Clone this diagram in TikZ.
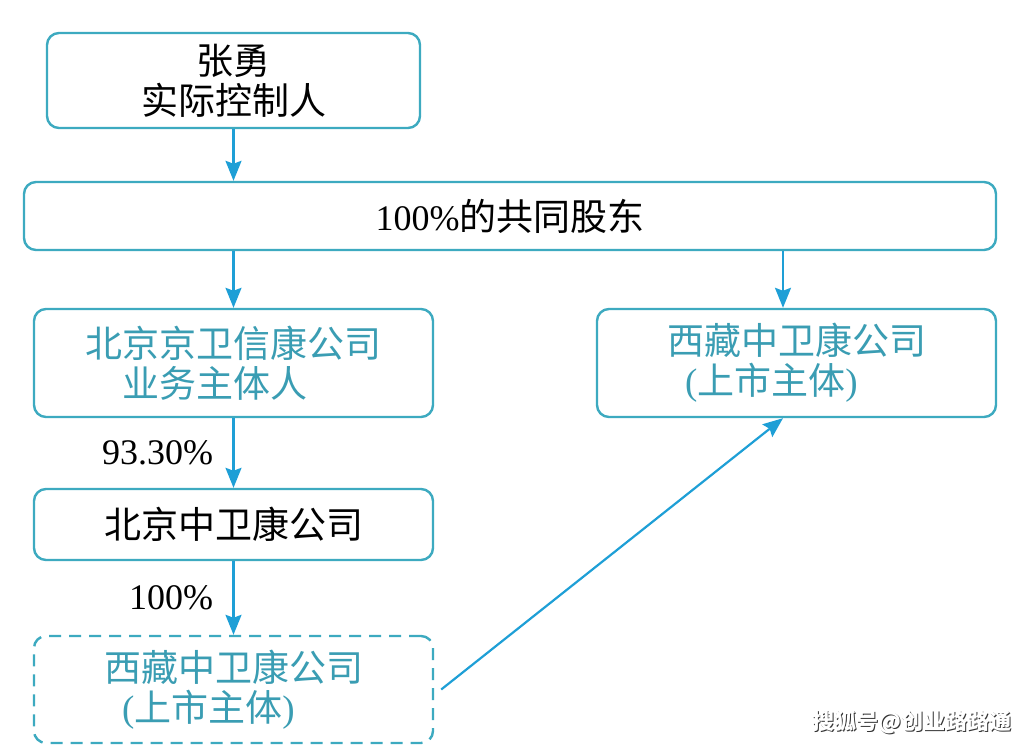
\documentclass[tikz,border=0pt]{standalone}
\usepackage{fontspec}
\setmainfont{Liberation Serif}
\newfontfamily\cjk{Noto Sans CJK SC}
\usetikzlibrary{arrows.meta}
\definecolor{boxc}{HTML}{3DAAC0}
\definecolor{tealtxt}{HTML}{3A9DB3}
\definecolor{arrc}{HTML}{1E9FD6}
\tikzset{
  box/.style={draw=boxc, line width=2.4pt, rounded corners=12pt, fill=white, align=center, inner sep=0pt, font=\fontsize{37}{40}\selectfont},
  arr/.style={draw=arrc, line width=2.2pt, -{Stealth[width=16pt,length=20pt,inset=3pt]}},
  lbl/.style={font=\fontsize{36}{40}\selectfont, text=black, left=16pt, midway},
  wm/.style={font=\fontsize{22}{24}\selectfont\cjk\bfseries}
}
\begin{document}
\begin{tikzpicture}[x=1pt,y=-1pt]
\useasboundingbox (0,0) rectangle (1026,747);
\node[box, minimum width=373pt, minimum height=95pt] (ctrl) at (233.5,80.5) {{\cjk 张勇}\\{\cjk 实际控制人}};
\node[box, minimum width=972pt, minimum height=68pt] (share) at (510,216) {\fontsize{36}{40}\selectfont 100\%{\cjk\fontsize{37}{40}\selectfont 的共同股东}};
\node[box, minimum width=399pt, minimum height=108pt, text=tealtxt] (jw) at (233.5,363) {{\cjk 北京京卫信康公司}\\{\cjk 业务主体人}\hspace*{38pt}};
\node[box, minimum width=399pt, minimum height=108pt, text=tealtxt, align=left] (xzr) at (796.5,363) {{\cjk 西藏中卫康公司}\\\hspace*{18pt}({\cjk 上市主体})};
\node[box, minimum width=399pt, minimum height=71pt] (bj) at (233.5,524.5) {{\cjk 北京中卫康公司}};
\node[box, dashed, dash pattern=on 12pt off 8pt, minimum width=399pt, minimum height=107pt, text=tealtxt, align=left] (xzl) at (233.5,689.5) {{\cjk 西藏中卫康公司}\\\hspace*{18pt}({\cjk 上市主体})};
\draw[arr] (ctrl.south) -- (ctrl.south |- share.north);
\draw[arr] (jw.north |- share.south) -- (jw.north);
\draw[arr] ([xshift=-13.5pt]xzr.north |- share.south) -- ([xshift=-13.5pt]xzr.north);
\draw[arr] (jw.south) -- (bj.north) node[lbl] {93.30\%};
\draw[arr] (bj.south) -- (xzl.north) node[lbl] {100\%};
\draw[arr] ([xshift=7pt]xzl.east) -- ([xshift=-13.5pt]xzr.south);
\node[wm, text=black!80] (wms) at (913,723) {搜狐号@创业路路通};
\node[wm, text=white] (wm) at (912,722) {搜狐号@创业路路通};
\end{tikzpicture}
\end{document}
